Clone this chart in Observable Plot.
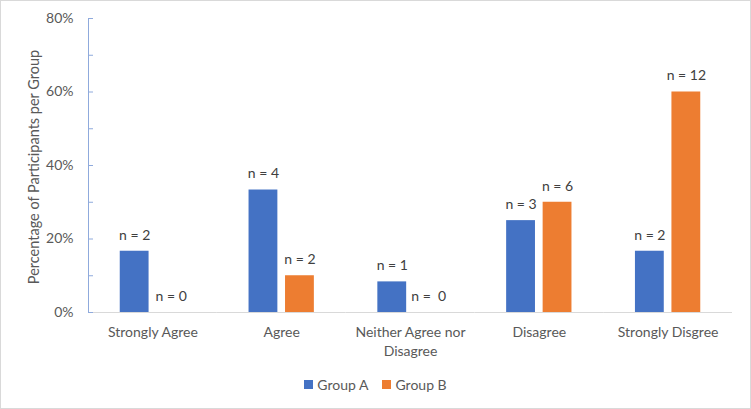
<!DOCTYPE html>
<html>
<head>
<meta charset="utf-8">
<script src="https://cdn.jsdelivr.net/npm/d3@7"></script>
<script src="https://cdn.jsdelivr.net/npm/@observablehq/plot@0.6"></script>
<style>
  html, body { margin: 0; padding: 0; background: #fff; }
  #chart { position: relative; width: 751px; height: 409px; box-sizing: border-box; border: 1px solid #d9d9d9; font-family: Lato, "Open Sans", sans-serif; color: #595959; overflow: hidden; }
  #legend { position: absolute; left: 0; right: 0; top: 375px; display: flex; justify-content: center; gap: 14px; font-size: 14px; color: #595959; }
  #legend span.item { display: flex; align-items: center; gap: 4px; }
  #legend span.sw { width: 9px; height: 9px; display: inline-block; }
</style>
</head>
<body>
<div id="chart"></div>
<script>
const categories = ["Strongly Agree", "Agree", "Neither Agree nor Disagree", "Disagree", "Strongly Disgree"];
const categoryLabels = ["Strongly Agree", "Agree", "Neither Agree nor\nDisagree", "Disagree", "Strongly Disgree"];
const groups = ["Group A", "Group B"];
const groupAValues = [0.1667, 0.3333, 0.0833, 0.25, 0.1667];
const groupBValues = [0.0, 0.10, 0.0, 0.30, 0.60];
const groupALabels = ["n = 2", "n = 4", "n = 1", "n = 3", "n = 2"];
const groupBLabels = ["n = 0", "n = 2", "n =  0", "n = 6", "n = 12"];
const colors = ["#4472C4", "#ED7D31"];
const yMajorTicks = [0, 0.2, 0.4, 0.6, 0.8];
const yMinorTicks = [0, 0.1, 0.2, 0.3, 0.4, 0.5, 0.6, 0.7, 0.8];

const data = [];
categories.forEach((c, i) => {
  data.push({category: c, group: groups[0], value: groupAValues[i], label: groupALabels[i]});
  data.push({category: c, group: groups[1], value: groupBValues[i], label: groupBLabels[i]});
});
const labelOf = new Map(categories.map((c, i) => [c, categoryLabels[i]]));

const plot = Plot.plot({
  width: 749,
  height: 362,
  marginLeft: 87,
  marginRight: 18,
  marginTop: 17,
  marginBottom: 51,
  style: {fontFamily: "Lato, 'Open Sans', sans-serif", color: "#595959", background: "#fff"},
  fx: {domain: categories, padding: 0, round: false, label: null, axis: null},
  x: {domain: groups, paddingInner: 0.21, paddingOuter: 0.87, round: false, axis: null},
  y: {domain: [0, 0.8], axis: null},
  color: {domain: groups, range: colors},
  marks: [
    Plot.ruleY([0], {stroke: "#d9d9d9", strokeWidth: 1}),
    Plot.frame({anchor: "left", stroke: "#8faadc", facetAnchor: "left"}),
    Plot.axisY({anchor: "right", frameAnchor: "left", facetAnchor: "left", ticks: yMinorTicks, tickSize: 4, tickFormat: () => "", label: null, stroke: "#8faadc"}),
    Plot.axisY({anchor: "left", ticks: yMajorTicks, tickSize: 0, tickPadding: 15, tickFormat: d => Math.round(d * 100) + "%", fontSize: 14, fill: "#595959", label: null}),
    Plot.barY(data, {fx: "category", x: "group", y: "value", fill: "group"}),
    Plot.text(data, {fx: "category", x: "group", y: "value", text: "label", dy: -16, fontSize: 14, fill: "#404040"}),
    Plot.axisFx({anchor: "bottom", tickSize: 0, tickPadding: 12, tickFormat: d => labelOf.get(d), fontSize: 14, lineHeight: 1.3, fill: "#595959", label: null})
  ]
});
document.getElementById("chart").appendChild(plot);

// y-axis title
const svg = d3.select(plot);
svg.append("text")
  .attr("transform", "translate(34,166) rotate(-90)")
  .attr("text-anchor", "middle")
  .attr("dominant-baseline", "middle")
  .attr("fill", "#595959")
  .style("font-size", "14.5px")
  .text("Percentage of Participants per Group");

// legend
const legend = d3.select("#chart").append("div").attr("id", "legend");
groups.forEach((g, i) => {
  const item = legend.append("span").attr("class", "item");
  item.append("span").attr("class", "sw").style("background", colors[i]);
  item.append("span").text(g);
});
</script>
</body>
</html>
